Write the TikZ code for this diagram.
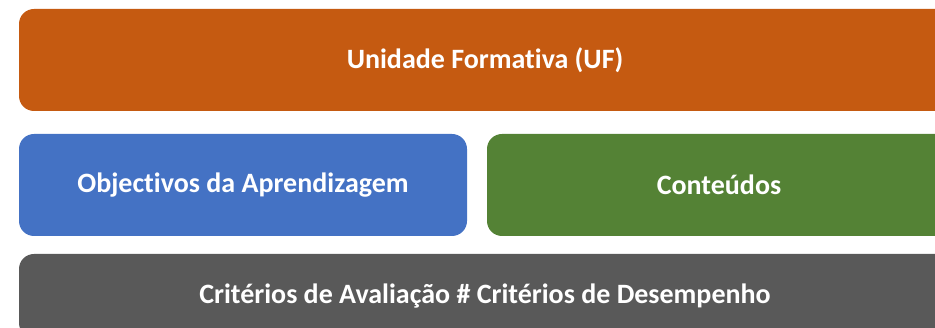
\documentclass[tikz,border=0pt]{standalone}
\usepackage{fontspec}
\setmainfont[Ligatures=NoCommon]{Carlito}
\definecolor{ufcolor}{HTML}{C55A11}
\definecolor{objcolor}{HTML}{4472C4}
\definecolor{contcolor}{HTML}{548235}
\definecolor{critcolor}{HTML}{595959}
\begin{document}
\begin{tikzpicture}
	[x=1pt,y=-1pt,
	 box/.style={rounded corners=15pt,text=white,font=\fontsize{28}{32}\selectfont\bfseries,minimum height=102pt,inner sep=0pt}]
    \useasboundingbox (0,0) rectangle (935,328);
    \clip (0,0) rectangle (935,328);
    \node[box,fill=ufcolor,minimum width=932pt] (uf) at (485,60) {Unidade Formativa (UF)};
    \node[box,fill=objcolor,minimum width=448pt] (obj) at (243,185) {Objectivos da Aprendizagem};
    \node[box,fill=contcolor,minimum width=464pt] (cont) at (719,185) {Conteúdos};
    \node[box,fill=critcolor,minimum width=932pt,minimum height=84pt] (crit) at (485,296) {Critérios de Avaliação \# Critérios de Desempenho};

\end{tikzpicture}
\end{document}
